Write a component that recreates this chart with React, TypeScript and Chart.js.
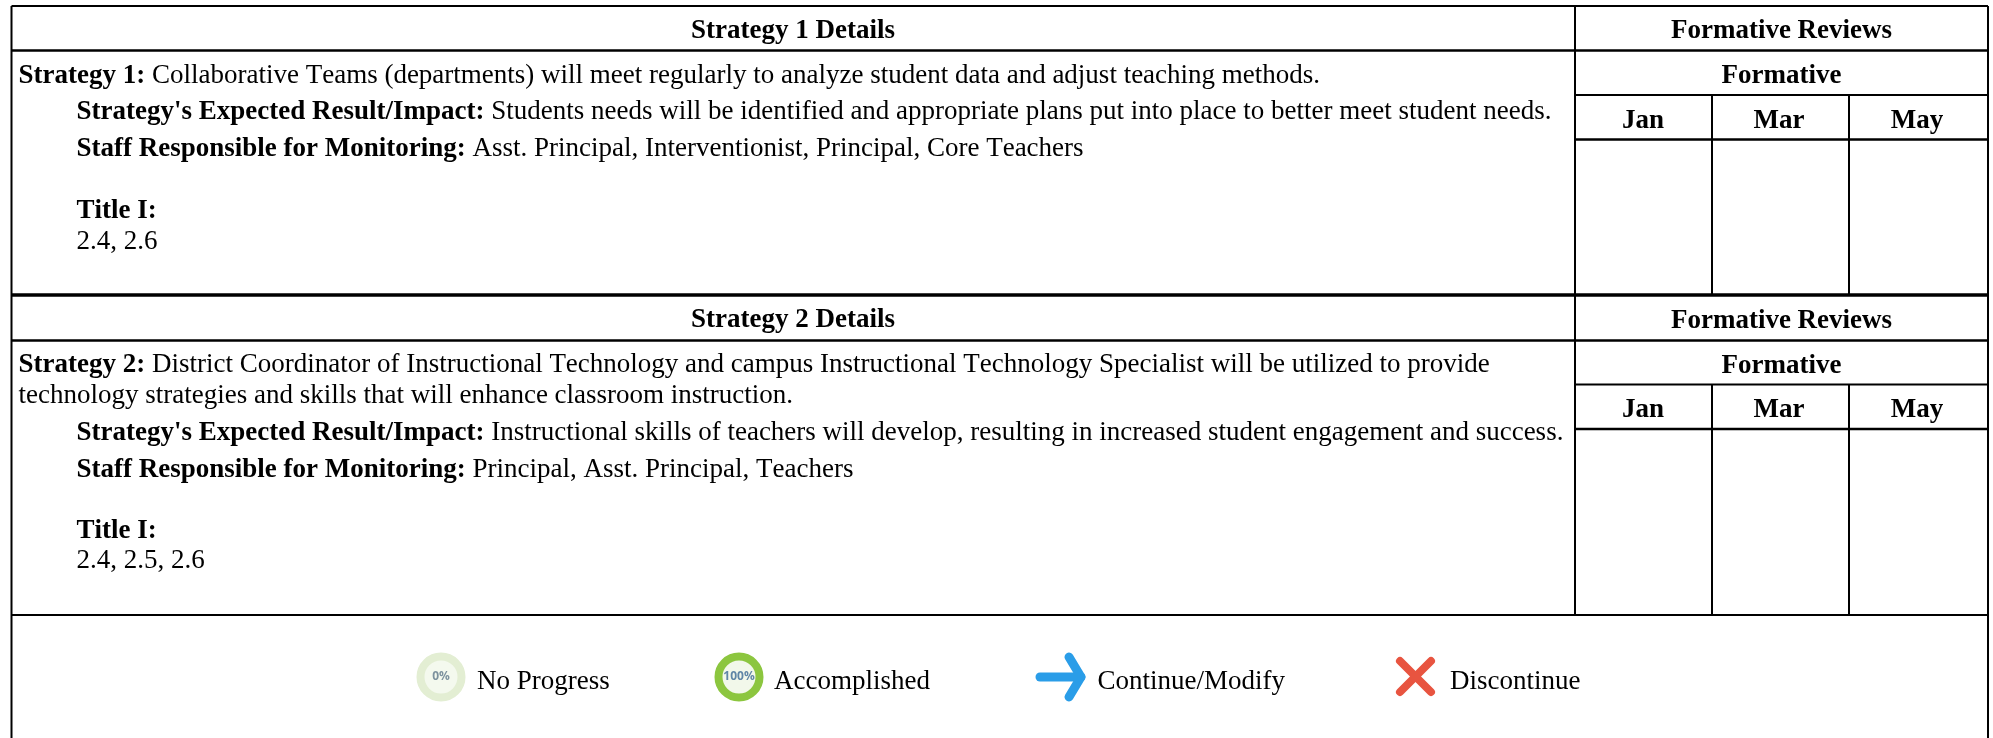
import React, { useEffect, useRef } from "react";
import { Chart, registerables } from "chart.js";

Chart.register(...registerables);

const WIDTH = 1993;
const HEIGHT = 738;

// Table rules: [fixed position, from, to]
const headerRules = [
  [50.5, 11.5, 1988],
  [340.5, 11.5, 1988],
  [139.5, 1575, 1988],
  [429, 1575, 1988],
];
const thinHorizontalRules = [
  [95, 1575, 1988],
  [384.5, 1575, 1988],
  [615, 11.5, 1988],
];
const thickHorizontalRules = [[295, 11.5, 1988]];
const topRule = [[6, 11.5, 1988]];
const verticalRules = [
  [11.5, 6, 738],
  [1988, 6, 738],
  [1575, 6, 615],
  [1712, 95, 295],
  [1849, 95, 295],
  [1712, 384.5, 615],
  [1849, 384.5, 615],
];

// Legend glyphs
const ringCentres = [
  [441, 677],
  [739, 677],
];
const ringLabels = ["0%", "100%"];
const arrowShaft = [
  [1040, 677],
  [1081, 677],
];
const arrowHead = [
  [1069, 657],
  [1081, 677],
  [1069, 697],
];
const crossA = [
  [1400, 661],
  [1431, 692],
];
const crossB = [
  [1431, 661],
  [1400, 692],
];

// Text: [x, baseline, bold part, plain part]
const bodyLines: [number, number, string, string][] = [
  [18.5, 83, "Strategy 1:", " Collaborative Teams (departments) will meet regularly to analyze student data and adjust teaching methods."],
  [76.5, 119, "Strategy's Expected Result/Impact:", " Students needs will be identified and appropriate plans put into place to better meet student needs."],
  [76.5, 156, "Staff Responsible for Monitoring:", " Asst. Principal, Interventionist, Principal, Core Teachers"],
  [76.5, 218, "Title I:", ""],
  [76.5, 249, "", "2.4, 2.6"],
  [18.5, 372, "Strategy 2:", " District Coordinator of Instructional Technology and campus Instructional Technology Specialist will be utilized to provide"],
  [18.5, 403, "", "technology strategies and skills that will enhance classroom instruction."],
  [76.5, 440, "Strategy's Expected Result/Impact:", " Instructional skills of teachers will develop, resulting in increased student engagement and success."],
  [76.5, 477, "Staff Responsible for Monitoring:", " Principal, Asst. Principal, Teachers"],
  [76.5, 538, "Title I:", ""],
  [76.5, 568, "", "2.4, 2.5, 2.6"],
];
const centredHeadings: [number, number, string][] = [
  [793, 38, "Strategy 1 Details"],
  [1781.5, 38, "Formative Reviews"],
  [1781.5, 83, "Formative"],
  [1643, 127.5, "Jan"],
  [1779, 127.5, "Mar"],
  [1917, 127.5, "May"],
  [793, 327, "Strategy 2 Details"],
  [1781.5, 327.5, "Formative Reviews"],
  [1781.5, 372.5, "Formative"],
  [1643, 417, "Jan"],
  [1779, 417, "Mar"],
  [1917, 417, "May"],
];
const legendLabels: [number, number, string][] = [
  [477, 689, "No Progress"],
  [774, 689, "Accomplished"],
  [1097.5, 689, "Continue/Modify"],
  [1450, 689, "Discontinue"],
];

const FONT_SIZE = 27;
const SERIF = "'Liberation Serif', 'Times New Roman', serif";

function ruleSet(rules: number[][], horizontal: boolean, width: number) {
  return rules.map((r) => ({
    data: horizontal
      ? [{ x: r[1], y: r[0] }, { x: r[2], y: r[0] }]
      : [{ x: r[0], y: r[1] }, { x: r[0], y: r[2] }],
    showLine: true,
    borderColor: "#000000",
    borderWidth: width,
    pointRadius: 0,
    borderCapStyle: "butt",
  }));
}

function glyphLine(points: number[][], color: string, width: number) {
  return {
    data: points.map((p) => ({ x: p[0], y: p[1] })),
    showLine: true,
    borderColor: color,
    borderWidth: width,
    pointRadius: 0,
    borderCapStyle: "round",
    borderJoinStyle: "round",
  };
}

const textPlugin = {
  id: "tableText",
  afterDatasetsDraw(chart: any) {
    const { ctx, scales } = chart;
    const px = (v: number) => scales.x.getPixelForValue(v);
    const py = (v: number) => scales.y.getPixelForValue(v);
    ctx.save();
    ctx.fillStyle = "#000000";
    ctx.textBaseline = "alphabetic";
    ctx.fontKerning = "none";

    ctx.textAlign = "left";
    bodyLines.forEach(([x, y, bold, plain]) => {
      let cursor = px(x);
      if (bold) {
        ctx.font = `bold ${FONT_SIZE}px ${SERIF}`;
        ctx.fillText(bold, cursor, py(y));
        cursor += ctx.measureText(bold).width;
      }
      if (plain) {
        ctx.font = `${FONT_SIZE}px ${SERIF}`;
        ctx.fillText(plain, cursor, py(y));
      }
    });

    ctx.textAlign = "center";
    ctx.font = `bold ${FONT_SIZE}px ${SERIF}`;
    centredHeadings.forEach(([x, y, t]) => ctx.fillText(t, px(x), py(y)));

    ctx.textAlign = "left";
    ctx.font = `${FONT_SIZE}px ${SERIF}`;
    legendLabels.forEach(([x, y, t]) => ctx.fillText(t, px(x), py(y)));

    ctx.textAlign = "center";
    ctx.textBaseline = "middle";
    ctx.fillStyle = "#7d929e";
    ctx.font = "bold 12px 'Open Sans', sans-serif";
    ctx.fillText(ringLabels[0], px(ringCentres[0][0]), py(ringCentres[0][1]));
    ctx.fillStyle = "#5f86a6";
    ctx.fillText(ringLabels[1], px(ringCentres[1][0]), py(ringCentres[1][1]));
    ctx.restore();
  },
};

export default function App() {
  const ref = useRef<HTMLCanvasElement>(null);
  useEffect(() => {
    if (!ref.current) return;
    const chart = new Chart(ref.current, {
      type: "scatter",
      data: {
        datasets: [
          ...ruleSet(headerRules, true, 2.5),
          ...ruleSet(thinHorizontalRules, true, 2),
          ...ruleSet(thickHorizontalRules, true, 3.5),
          ...ruleSet(topRule, true, 2),
          ...ruleSet(verticalRules, false, 2),
          {
            data: [{ x: ringCentres[0][0], y: ringCentres[0][1] }],
            pointRadius: 20.5,
            pointBorderWidth: 8,
            pointBackgroundColor: "#f4f9ee",
            pointBorderColor: "#e3eed3",
          },
          {
            data: [{ x: ringCentres[1][0], y: ringCentres[1][1] }],
            pointRadius: 20.5,
            pointBorderWidth: 8,
            pointBackgroundColor: "#f2f8ea",
            pointBorderColor: "#8cc63f",
          },
          glyphLine(arrowShaft, "#2a9de8", 9),
          glyphLine(arrowHead, "#2a9de8", 9),
          glyphLine(crossA, "#e85440", 8),
          glyphLine(crossB, "#e85440", 8),
        ] as any,
      },
      options: {
        animation: false,
        responsive: false,
        layout: { padding: 0, autoPadding: false },
        plugins: { legend: { display: false }, tooltip: { enabled: false } },
        scales: {
          x: { type: "linear", min: 0, max: WIDTH, display: false },
          y: { type: "linear", min: 0, max: HEIGHT, reverse: true, display: false },
        },
        elements: { line: { tension: 0 } },
      },
      plugins: [textPlugin],
    });
    return () => chart.destroy();
  }, []);
  return (
    <canvas
      ref={ref}
      width={WIDTH}
      height={HEIGHT}
      style={{ position: "fixed", left: 0, top: 0, width: WIDTH, height: HEIGHT, display: "block", background: "#fff" }}
    />
  );
}
